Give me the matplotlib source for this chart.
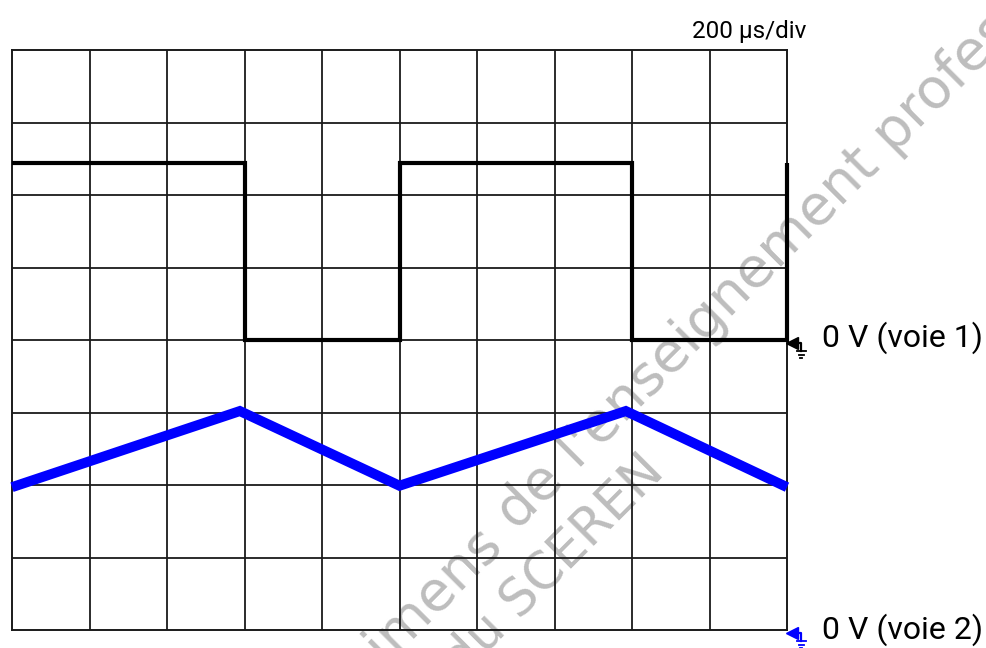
import matplotlib
matplotlib.use("Agg")
import matplotlib.pyplot as plt

### data (time and voltage in screen divisions)
# voie 1 : square wave, key points of the trace
t_voie1 = [0, 3, 3, 5, 5, 8, 8, 10, 10]
v_voie1 = [6.44, 6.44, 4.0, 4.0, 6.44, 6.44, 4.0, 4.0, 6.44]

# voie 2 : triangle wave, corners of the trace
t_voie2 = [0, 2.94, 5.0, 7.92, 10]
v_voie2 = [1.97, 3.02, 1.99, 3.02, 1.97]

n_div_x = 10
n_div_y = 8
zero_voie1 = 4
zero_voie2 = 0
time_base = "200 µs/div"
labels = ["0 V (voie 1)", "0 V (voie 2)"]
###

W, H, DPI = 986, 648, 100
fig = plt.figure(figsize=(W / DPI, H / DPI), dpi=DPI)
# screen area in pixels: x 12..787, y 50..630
ax = fig.add_axes([12 / W, 1 - 630 / H, 775 / W, 580 / H])
ax.set_xlim(0, n_div_x)
ax.set_ylim(0, n_div_y)
ax.set_xticks([])
ax.set_yticks([])
for s in ax.spines.values():
    s.set_linewidth(1.4)
    s.set_color("#1a1a1a")

# graticule
for i in range(1, n_div_x):
    ax.axvline(i, color="#1a1a1a", lw=1.3, zorder=1)
for j in range(1, n_div_y):
    ax.axhline(j, color="#1a1a1a", lw=1.3, zorder=1)

# traces
ax.plot(t_voie2, v_voie2, color="#0000ff", lw=7.2, solid_joinstyle="miter",
        solid_capstyle="butt", zorder=3, clip_on=False)
ax.plot(t_voie1, v_voie1, color="black", lw=3.0, solid_joinstyle="miter",
        solid_capstyle="butt", zorder=4, clip_on=False)

# one pixel in data units
px = n_div_x / 775
py = n_div_y / 580


def draw_ground(y0, color):
    """small arrow + ground sign at the right of the screen"""
    ya = y0 - 3 * py
    ax.plot([n_div_x + 5 * px], [ya], marker="<", ms=8, color=color,
            clip_on=False, zorder=5)
    ax.plot([n_div_x + 5 * px, n_div_x + 14 * px, n_div_x + 14 * px],
            [ya, ya, ya - 8 * py], color=color, lw=1.6, clip_on=False, zorder=5)
    for k, half in enumerate([4.5, 2.5, 1]):
        yy = ya - (8 + 3.5 * k) * py
        ax.plot([n_div_x + (14 - half) * px, n_div_x + (14 + half) * px], [yy, yy],
                color=color, lw=1.3, clip_on=False, zorder=5)


draw_ground(zero_voie1, "black")
draw_ground(zero_voie2, "#0000ff")

label_font = ["Roboto", "DejaVu Sans"]
ax.text(10.45, zero_voie1 + 0.03, labels[0], fontsize=23, family=label_font,
        va="center", ha="left", clip_on=False)
ax.text(10.45, zero_voie2, labels[1], fontsize=23, family=label_font,
        va="center", ha="left", clip_on=False)
ax.text(9.51, 8.166, time_base, fontsize=17.5, family=label_font,
        va="baseline", ha="center", clip_on=False)

# watermark, under the traces
wm = dict(color="#bdbdbd", rotation=45, rotation_mode="anchor",
          transform=fig.transFigure, clip_on=False, zorder=0.5,
          family="DejaVu Sans")
ax.text(504 / W, 1 - 545 / H, "Spécimens", fontsize=40, ha="right", va="baseline", **wm)
ax.text(517 / W, 1 - 532 / H, "de l'enseignement professionnel", fontsize=40,
        ha="left", va="baseline", **wm)
ax.text(666 / W, 1 - 473 / H, "du SCEREN", fontsize=37, ha="right", va="baseline", **wm)

fig.savefig("out.png", dpi=DPI)
